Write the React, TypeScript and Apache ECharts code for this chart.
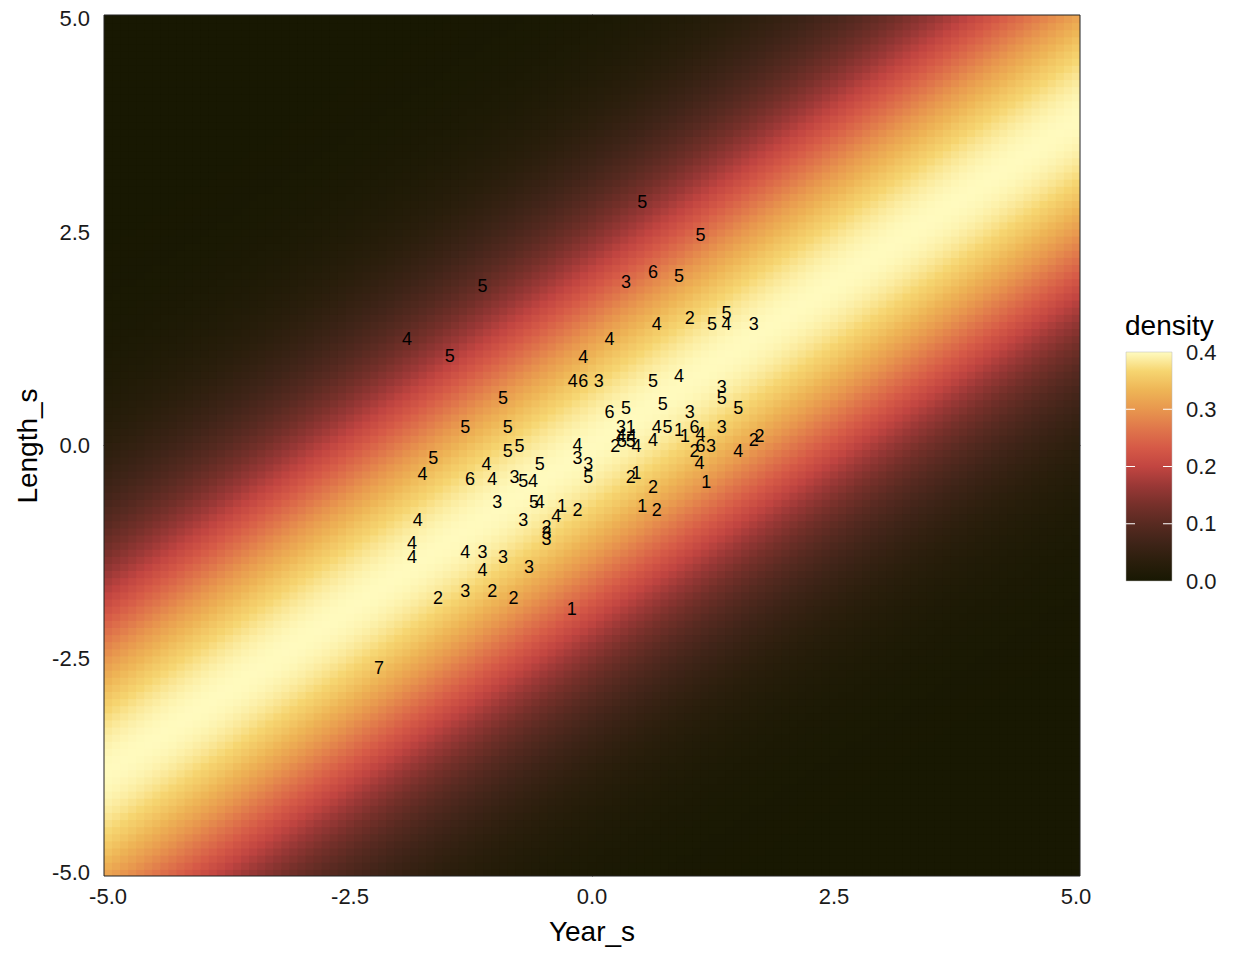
import React, { useEffect, useRef } from "react";
import * as echarts from "echarts";

// ---------- axis / legend ticks ----------
const X_TICKS = [-5, -2.5, 0, 2.5, 5];
const Y_TICKS = [-5, -2.5, 0, 2.5, 5];
const LEGEND_TICKS = [0, 0.1, 0.2, 0.3, 0.4];

// ---------- density field (normal density of the residual around a ridge line) ----------
const GRID_N = 121;
const GRID_MIN = -5;
const GRID_MAX = 5;
const RIDGE_SLOPE = 0.76;
const RIDGE_INTERCEPT = 0;
const RIDGE_SD = 1.75;
const PEAK_DENSITY = 0.399;

// ---------- labelled points ----------
const POINT_X = [
  0.52, 1.12, 0.63, 0.35, 0.9, -1.13, -1.91, -1.47, 0.67, 1.01,
  1.24, 1.39, 1.39, 1.67, 0.18, -0.09, -0.2, -0.09, 0.07, 0.63,
  0.9, -0.92, 1.34, 1.34, 1.51, 0.18, 0.35, 0.73, 1.01, -1.31,
  -0.87, 0.3, 0.4, 0.67, 0.78, 0.9, 0.96, 1.06, 1.12, 1.34,
  0.3, 0.41, 0.24, 0.31, 0.4, 0.46, 0.63, 1.06, 1.12, 1.23,
  1.51, 1.67, 1.73, -0.87, -0.75, -0.15, -0.15, -0.04, -0.04, 0.4,
  0.46, 0.63, 1.11, 1.18, 0.52, 0.67, -0.15, -1.64, -1.75, -1.09,
  -0.54, -1.26, -1.03, -0.8, -0.71, -0.61, -0.98, -0.6, -0.54, -0.31,
  -0.37, -1.8, -0.71, -0.47, -0.47, -0.47, -1.86, -1.86, -1.31, -1.13,
  -0.92, -0.65, -1.13, -1.31, -1.03, -1.59, -0.81, -0.21, -2.2,
];
const POINT_Y = [
  2.85, 2.47, 2.03, 1.92, 1.98, 1.87, 1.25, 1.05, 1.42, 1.49,
  1.42, 1.55, 1.42, 1.42, 1.25, 1.04, 0.76, 0.76, 0.76, 0.76,
  0.81, 0.56, 0.68, 0.56, 0.44, 0.39, 0.44, 0.49, 0.39, 0.22,
  0.22, 0.22, 0.22, 0.22, 0.22, 0.18, 0.11, 0.22, 0.13, 0.22,
  0.11, 0.11, 0.0, 0.05, 0.05, 0.0, 0.06, -0.07, 0.0, 0.0,
  -0.06, 0.06, 0.11, -0.07, 0.0, 0.01, -0.15, -0.22, -0.37, -0.37,
  -0.32, -0.49, -0.21, -0.43, -0.71, -0.75, -0.75, -0.15, -0.33, -0.22,
  -0.22, -0.39, -0.39, -0.37, -0.42, -0.42, -0.66, -0.66, -0.66, -0.71,
  -0.82, -0.87, -0.87, -0.95, -1.02, -1.1, -1.14, -1.3, -1.25, -1.25,
  -1.3, -1.42, -1.46, -1.7, -1.7, -1.79, -1.79, -1.91, -2.61,
];
const POINT_LABEL = [
  "5", "5", "6", "3", "5", "5", "4", "5", "4", "2",
  "5", "5", "4", "3", "4", "4", "4", "6", "3", "5",
  "4", "5", "3", "5", "5", "6", "5", "5", "3", "5",
  "5", "3", "1", "4", "5", "1", "1", "6", "4", "3",
  "4", "4", "2", "5", "5", "4", "4", "2", "6", "3",
  "4", "2", "2", "5", "5", "4", "3", "3", "5", "2",
  "1", "2", "4", "1", "1", "2", "2", "5", "4", "4",
  "5", "6", "4", "3", "5", "4", "3", "5", "4", "1",
  "4", "4", "3", "2", "3", "3", "4", "4", "4", "3",
  "3", "3", "4", "3", "2", "2", "2", "1", "7",
];

// ---------- colour scale (dark -> pale) ----------
const PALETTE = [
  "#181802", "#2A1E0C", "#3F2418", "#582A21", "#76302A", "#9A3836", "#C24541",
  "#D65A47", "#E0774B", "#E8974E", "#EEB556", "#F6D570", "#FFFBC0",
];

const FONT = "Liberation Sans, Arial, Helvetica, sans-serif";

// layout
const G_LEFT = 104;
const G_TOP = 15;
const G_RIGHT = 1080;
const G_BOTTOM = 876;
const LEG_X = 1126;
const LEG_TOP = 352;
const LEG_BOTTOM = 581;
const LEG_W = 46;
const LEG_MAX = 0.4;

export default function App() {
  const ref = useRef<HTMLDivElement>(null);

  useEffect(() => {
    if (!ref.current) return;
    const chart = echarts.init(ref.current, undefined, { renderer: "svg" });

    const step = (GRID_MAX - GRID_MIN) / (GRID_N - 1);
    const half = step / 2;
    const heat: number[][] = [];
    for (let i = 0; i < GRID_N; i++) {
      const x = GRID_MIN + i * step;
      for (let j = 0; j < GRID_N; j++) {
        const y = GRID_MIN + j * step;
        const r = (y - (RIDGE_INTERCEPT + RIDGE_SLOPE * x)) / RIDGE_SD;
        heat.push([x, y, PEAK_DENSITY * Math.exp(-0.5 * r * r)]);
      }
    }
    const points = POINT_X.map((x, i) => [x, POINT_Y[i]]);

    const legH = LEG_BOTTOM - LEG_TOP;
    const stops = PALETTE.map((c, i) => ({ offset: 1 - i / (PALETTE.length - 1), color: c })).reverse();
    const graphics: any[] = [
      {
        type: "rect",
        z: 100,
        silent: true,
        shape: { x: G_LEFT, y: G_TOP, width: G_RIGHT - G_LEFT, height: G_BOTTOM - G_TOP },
        style: { fill: "none", stroke: "#222", lineWidth: 1 },
      },
      {
        type: "text",
        x: 592,
        y: 931,
        style: { text: "Year_s", font: `28px ${FONT}`, fill: "#000", align: "center", verticalAlign: "middle" },
      },
      {
        type: "text",
        x: 27,
        y: 446,
        rotation: Math.PI / 2,
        style: { text: "Length_s", font: `28px ${FONT}`, fill: "#000", align: "center", verticalAlign: "middle" },
      },
      {
        type: "text",
        x: LEG_X - 1,
        y: 325,
        style: { text: "density", font: `28px ${FONT}`, fill: "#000", align: "left", verticalAlign: "middle" },
      },
      {
        type: "rect",
        shape: { x: LEG_X, y: LEG_TOP, width: LEG_W, height: legH },
        style: {
          fill: { type: "linear", x: 0, y: 0, x2: 0, y2: 1, colorStops: stops, global: false },
          stroke: "#bbb",
          lineWidth: 0.5,
        },
      },
    ];
    LEGEND_TICKS.forEach((v) => {
      const y = LEG_BOTTOM - (v / LEG_MAX) * legH;
      graphics.push({
        type: "text",
        x: LEG_X + LEG_W + 14,
        y,
        style: { text: v.toFixed(1), font: `22px ${FONT}`, fill: "#1a1a1a", align: "left", verticalAlign: "middle" },
      });
      if (v > 0 && v < LEG_MAX) {
        graphics.push({
          type: "line",
          z: 10,
          shape: { x1: LEG_X, y1: y, x2: LEG_X + 9, y2: y },
          style: { stroke: "#fff", lineWidth: 1 },
        });
        graphics.push({
          type: "line",
          z: 10,
          shape: { x1: LEG_X + LEG_W - 9, y1: y, x2: LEG_X + LEG_W, y2: y },
          style: { stroke: "#fff", lineWidth: 1 },
        });
      }
    });

    const ext = GRID_MAX + half;
    chart.setOption({
      animation: false,
      backgroundColor: "#fff",
      grid: { left: G_LEFT, top: G_TOP, right: 1248 - G_RIGHT, bottom: 960 - G_BOTTOM, containLabel: false },
      xAxis: {
        type: "value",
        min: -ext,
        max: ext,
        splitLine: { show: false },
        axisLine: { show: true, lineStyle: { color: "#222" } },
        axisTick: { show: true, customValues: X_TICKS, length: 6, lineStyle: { color: "#333" } },
        axisLabel: {
          customValues: X_TICKS,
          formatter: (v: number) => v.toFixed(1),
          fontSize: 22,
          fontFamily: FONT,
          color: "#1a1a1a",
          margin: 9,
        },
      },
      yAxis: {
        type: "value",
        min: -ext,
        max: ext,
        splitLine: { show: false },
        axisLine: { show: true, lineStyle: { color: "#222" } },
        axisTick: { show: true, customValues: Y_TICKS, length: 6, lineStyle: { color: "#333" } },
        axisLabel: {
          customValues: Y_TICKS,
          formatter: (v: number) => v.toFixed(1),
          fontSize: 22,
          fontFamily: FONT,
          color: "#1a1a1a",
          margin: 14,
        },
      },
      visualMap: {
        type: "continuous",
        show: false,
        min: 0,
        max: LEG_MAX,
        dimension: 2,
        seriesIndex: 0,
        inRange: { color: PALETTE },
      },
      series: [
        {
          type: "custom",
          clip: true,
          progressive: 0,
          data: heat,
          encode: { x: 0, y: 1 },
          renderItem: (_p: any, api: any) => {
            const x = api.value(0);
            const y = api.value(1);
            const a = api.coord([x - half, y + half]);
            const b = api.coord([x + half, y - half]);
            return {
              type: "rect",
              shape: { x: a[0], y: a[1], width: b[0] - a[0] + 1, height: b[1] - a[1] + 1 },
              style: { fill: api.visual("color") },
            };
          },
        },
        {
          type: "custom",
          clip: false,
          data: points,
          encode: { x: 0, y: 1 },
          z: 5,
          renderItem: (params: any, api: any) => {
            const p = api.coord([api.value(0), api.value(1)]);
            return {
              type: "text",
              x: p[0],
              y: p[1],
              style: {
                text: POINT_LABEL[params.dataIndex],
                font: `18px ${FONT}`,
                fill: "#000",
                align: "center",
                verticalAlign: "middle",
              },
            };
          },
        },
      ],
      graphic: graphics,
    });

    return () => chart.dispose();
  }, []);

  return (
    <div
      ref={ref}
      style={{ position: "fixed", left: 0, top: 0, width: 1248, height: 960, background: "#fff" }}
    />
  );
}
